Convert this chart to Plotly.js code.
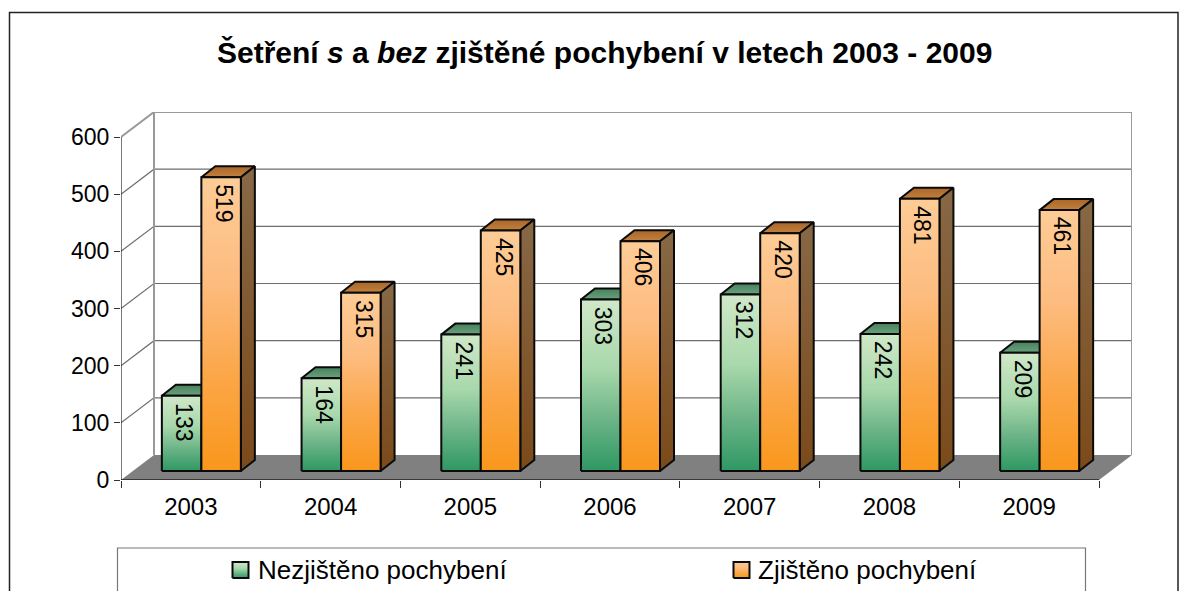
<!DOCTYPE html>
<html><head><meta charset="utf-8">
<script src="https://cdn.plot.ly/plotly-3.0.1.min.js"></script>
<style>html,body{margin:0;padding:0;background:#fff;overflow:hidden}#c{width:1187px;height:591px}</style>
</head><body><div id="c"></div>
<script>
const years = ['2003','2004','2005','2006','2007','2008','2009'];
const nezjisteno = [133,164,241,303,312,242,209];
const zjisteno = [519,315,425,406,420,481,461];
const yTicks = [0,100,200,300,400,500,600];
const titleText = '<b>Šetření <i>s</i> a <i>bez</i> zjištěné pochybení v letech 2003 - 2009</b>';
const legendNames = ['Nezjištěno pochybení','Zjištěno pochybení'];

const W=1187,H=591;
const left=121,right=1099,base=480,top600=137,depX=33,depY=25;
const ux=(right-left)/7, uy=(base-top600)/600;
const dX=depX/ux, dY=depY/uy;
const barW=39.5/ux, shiftX=10.5/ux, shiftY=9/uy, bX=14/ux, bY=11/uy, barScale=0.99;
const FONT='"Liberation Sans", Arial, sans-serif';
const traces=[];
function poly(xs,ys,o){traces.push(Object.assign({type:'scatter',mode:'lines',x:xs,y:ys,hoverinfo:'skip',showlegend:false,cliponaxis:false},o));}
function grad(scale){return {type:'vertical',colorscale:scale};}
const edge={color:'#0a0a0a',width:2};

// floor
poly([-0.5,-0.5+dX,6.5+dX,6.5,-0.5],[0,dY,dY,0,0],{fill:'toself',fillcolor:'#808080',line:{width:0}});
// gridlines
yTicks.slice(1,-1).forEach(v=>poly([-0.5,-0.5+dX,6.5+dX],[v,v+dY,v+dY],{line:{color:'#6e6e6e',width:1.2}}));
// walls
poly([-0.5,-0.5+dX,6.5+dX,6.5+dX],[600,600+dY,600+dY,dY],{line:{color:'#999999',width:2}});
poly([-0.5+dX,-0.5+dX],[dY,600+dY],{line:{color:'#999999',width:2}});
// axis lines
poly([-0.5,-0.5],[0,600],{line:{color:'#222',width:1.2}});
poly([-0.5,6.5],[0,0],{line:{color:'#222',width:1.4}});

function bar3d(i,v,xl,front,topc,side){
  const xr=xl+barW, y0=shiftY, y1=shiftY+v*barScale;
  poly([xl,xl+bX,xr+bX,xr,xl],[y1,y1+bY,y1+bY,y1,y1],{fill:'toself',fillgradient:grad(topc),line:edge});
  poly([xr,xr+bX,xr+bX,xr,xr],[y0,y0+bY,y1+bY,y1,y0],{fill:'toself',fillgradient:grad(side),line:edge});
  poly([xl,xr,xr,xl,xl],[y0,y0,y1,y1,y0],{fill:'toself',fillgradient:grad(front),line:edge});
}
const gF=[[0,'#2e9863'],[0.3,'#6cb487'],[0.6,'#a8d8ab'],[1,'#d0e8c8']];
const oF=[[0,'#f9971c'],[0.3,'#fba544'],[0.65,'#fdbc80'],[1,'#fdcc96']];
const gT=[[0,'#69a27c'],[1,'#47805c']], oT=[[0,'#c2813d'],[1,'#a8662a']];
const gS=[[0,'#1f6b45'],[1,'#7d9c85']], oS=[[0,'#7b4a1a'],[1,'#876846']];
years.forEach((y,i)=>{
  const cx=i+shiftX;
  bar3d(i,nezjisteno[i],cx-barW,gF,gT,gS);
  bar3d(i,zjisteno[i],cx,oF,oT,oS);
});
const idx=years.map((_,i)=>i);
// invisible bars keep the boundary-tick axis alive
traces.push({type:'bar',xaxis:'x2',yaxis:'y',x:idx,y:zjisteno,base:shiftY,offset:shiftX,width:barW,
  marker:{color:'rgba(0,0,0,0)',line:{width:0}},hoverinfo:'skip',showlegend:false});
// legend swatches on the page-pixel axes
[[232.5,gF],[733.5,oF]].forEach(([sx,c])=>{
  traces.push({type:'scatter',mode:'lines',xaxis:'x3',yaxis:'y3',x:[sx,sx+16,sx+16,sx,sx],y:[578,578,562,562,578],
    fill:'toself',fillgradient:grad(c),line:edge,hoverinfo:'skip',showlegend:false});
});
// rotated data labels
function valueLabels(vals,off){
  return vals.map((v,i)=>({xref:'x',yref:'y',x:i+shiftX+off,y:shiftY+v*barScale,yanchor:'top',xanchor:'center',yshift:-5,xshift:3,
    text:String(v),textangle:90,showarrow:false,font:{family:FONT,size:23,color:'#000'}}));
}

const layout={
  width:W,height:H,margin:{l:0,r:0,t:0,b:0},paper_bgcolor:'#fff',plot_bgcolor:'rgba(0,0,0,0)',showlegend:false,
  barmode:'overlay',font:{family:FONT,color:'#000',size:23},
  xaxis:{domain:[left/W,(right+depX)/W],range:[-0.5,6.5+dX],tickmode:'array',tickvals:idx,ticktext:years,
    showgrid:false,zeroline:false,showline:false,ticks:'',ticklabelstandoff:10,tickfont:{size:24}},
  xaxis2:{domain:[left/W,(right+depX)/W],range:[-0.5,6.5+dX],overlaying:'x',anchor:'y',tickmode:'array',
    tickvals:[-0.5,0.5,1.5,2.5,3.5,4.5,5.5,6.5],ticktext:['','','','','','','',''],ticks:'outside',ticklen:7,tickcolor:'#333',tickwidth:1,
    showgrid:false,zeroline:false,showline:false},
  yaxis:{domain:[(H-base)/H,(H-(top600-depY))/H],range:[0,600+dY],tickmode:'array',tickvals:yTicks,ticktext:yTicks.map(String),
    ticks:'outside',ticklen:6,tickcolor:'#333',tickwidth:1,showgrid:false,zeroline:false,showline:false,tickfont:{size:23}},
  xaxis3:{domain:[0,1],range:[0,W],anchor:'y3',visible:false,fixedrange:true},
  yaxis3:{domain:[0,1],range:[H,0],anchor:'x3',visible:false,fixedrange:true},
  shapes:[
    {type:'rect',xref:'x3',yref:'y3',x0:9.5,x1:1178,y0:12.5,y1:640,line:{color:'#222',width:1.5},layer:'below'},
    {type:'rect',xref:'x3',yref:'y3',x0:117.5,x1:1085.5,y0:548,y1:640,line:{color:'#777',width:1.2},layer:'below'}
  ],
  annotations:[
    {xref:'x3',yref:'y3',x:604,y:52,text:titleText,showarrow:false,xanchor:'center',yanchor:'middle',font:{size:30,family:FONT,color:'#000'}},
    {xref:'x3',yref:'y3',x:256,y:570,text:legendNames[0],showarrow:false,xanchor:'left',yanchor:'middle',font:{size:26,family:FONT}},
    {xref:'x3',yref:'y3',x:756,y:570,text:legendNames[1],showarrow:false,xanchor:'left',yanchor:'middle',font:{size:26,family:FONT}}
  ].concat(valueLabels(nezjisteno,-barW/2),valueLabels(zjisteno,barW/2))
};
Plotly.newPlot('c',traces,layout,{displayModeBar:false,staticPlot:true});
</script></body></html>
